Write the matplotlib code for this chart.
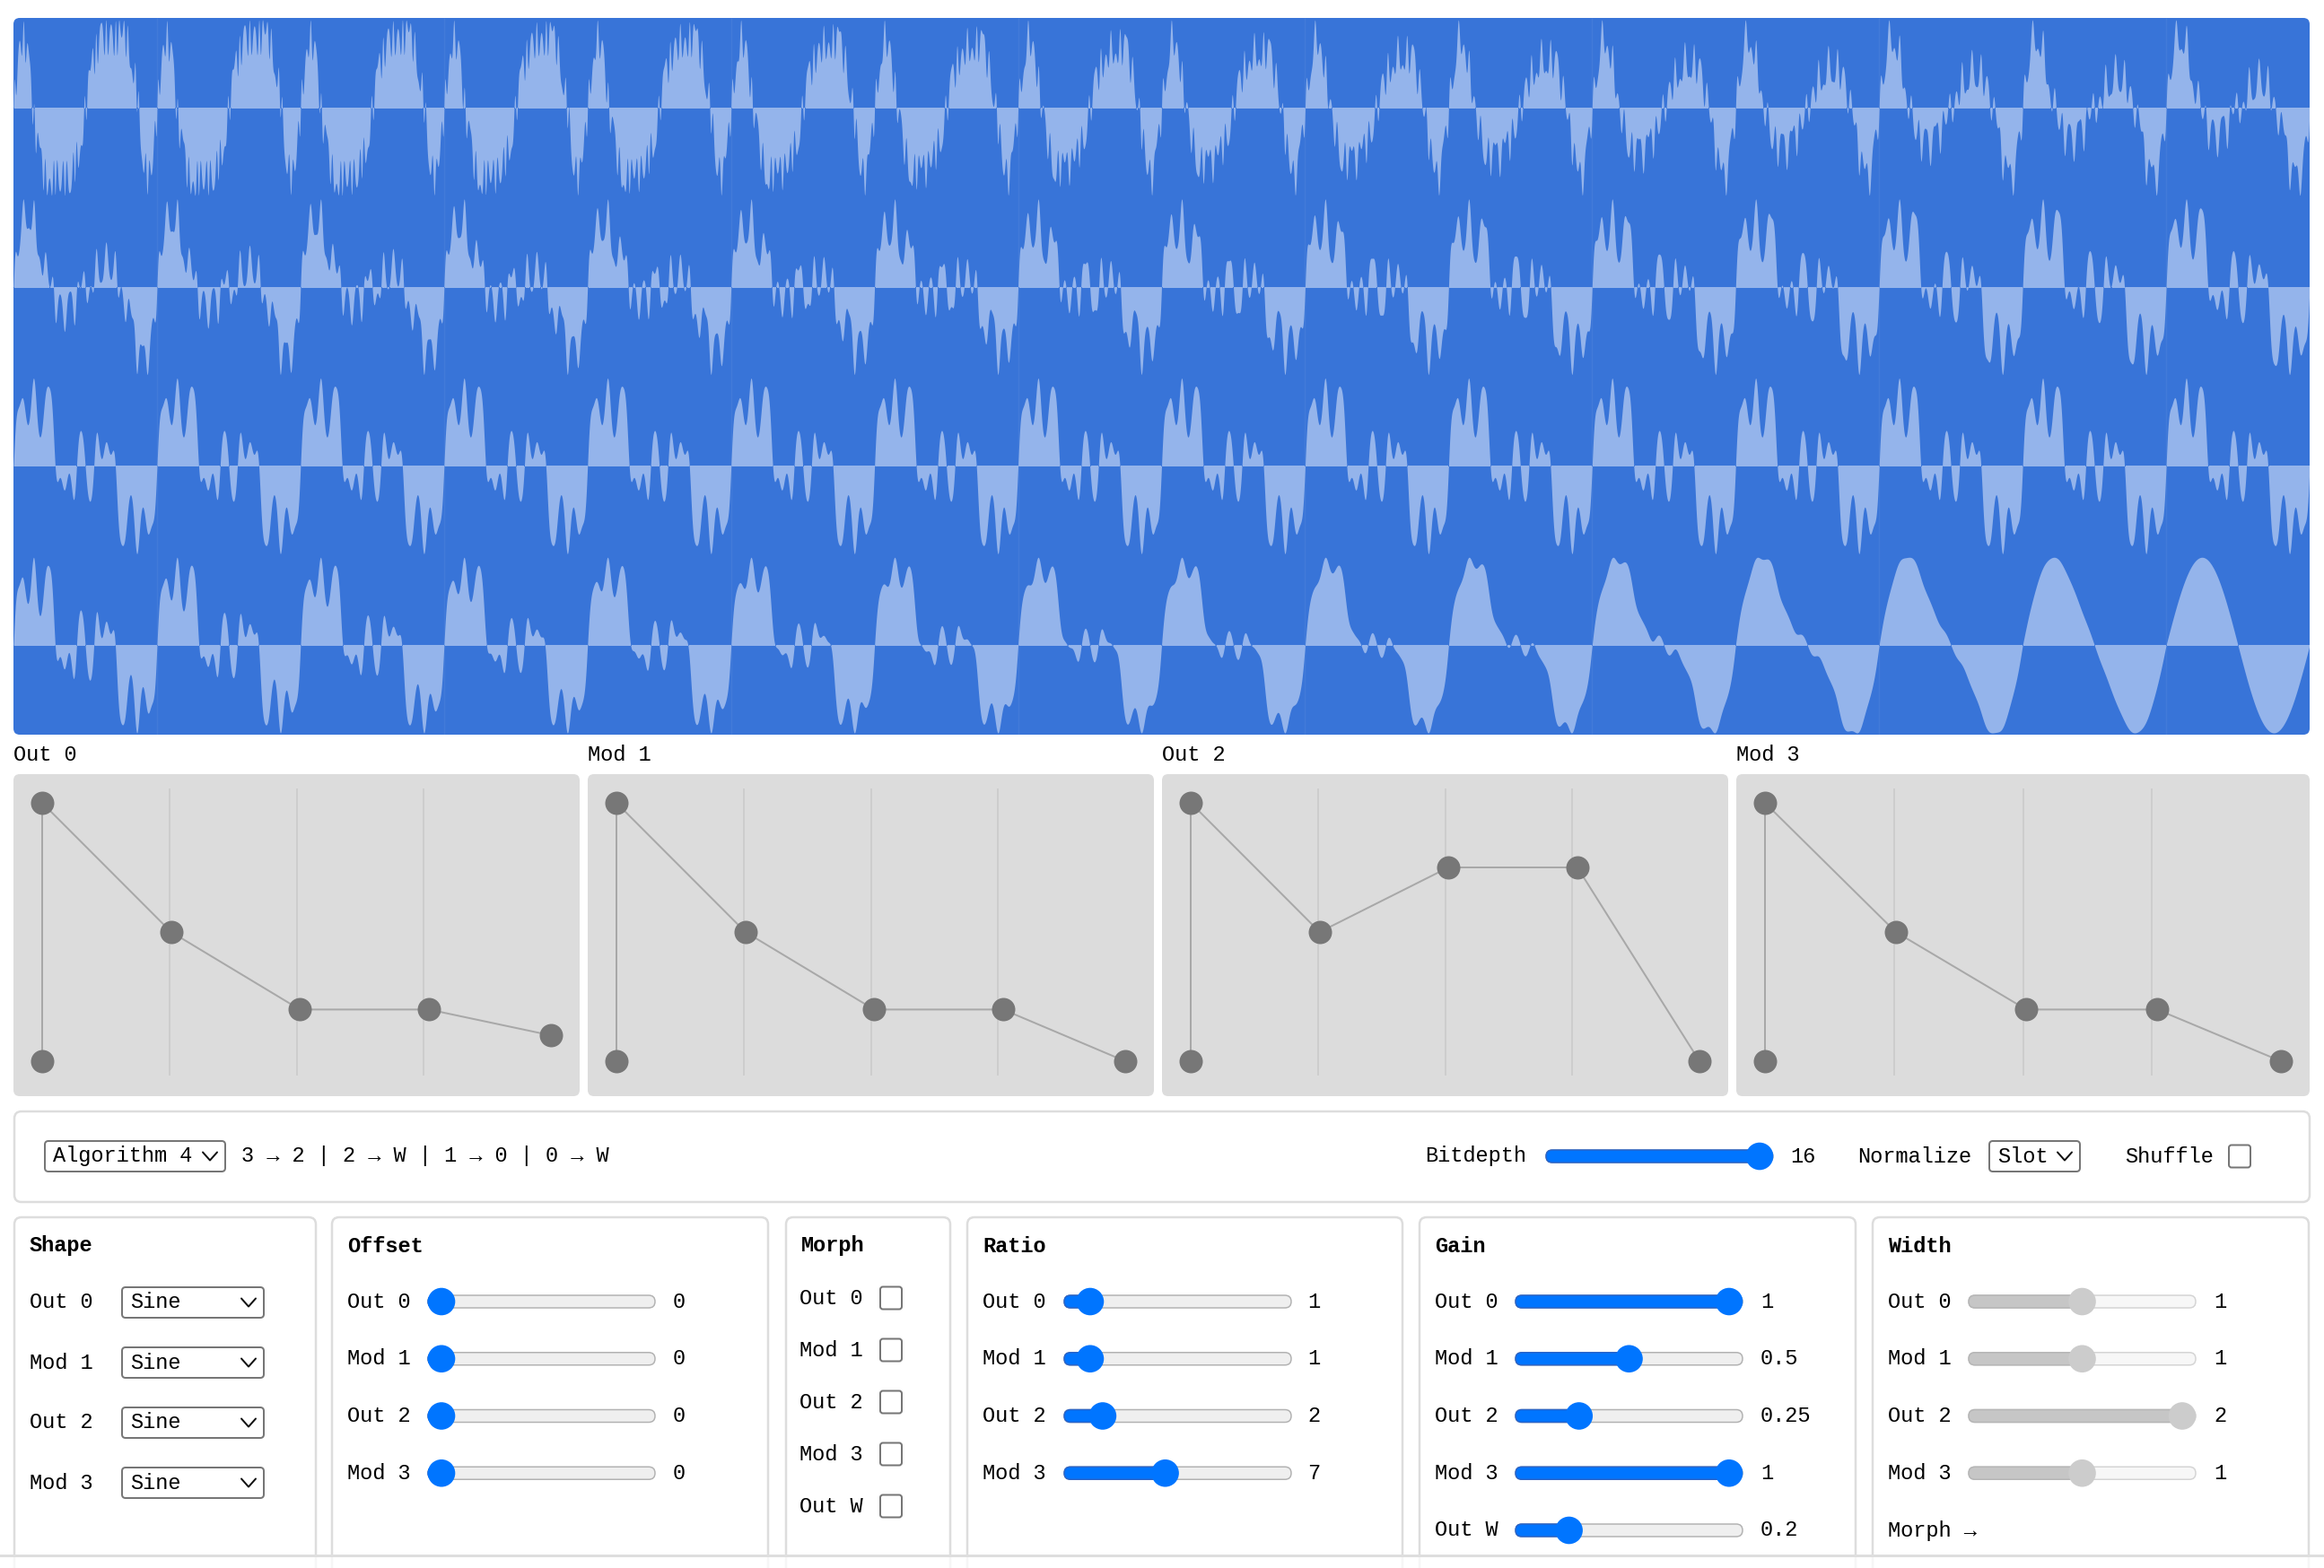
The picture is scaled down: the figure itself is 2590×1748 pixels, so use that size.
import numpy as np
import matplotlib
matplotlib.use("Agg")
import matplotlib.pyplot as plt
from matplotlib.patches import FancyBboxPatch, Circle, Rectangle

W_PX, H_PX = 2590, 1748

# ---- data ----
OPS = ["Out 0", "Mod 1", "Out 2", "Mod 3"]
SHAPES = ["Sine", "Sine", "Sine", "Sine"]
OFFSETS = [0, 0, 0, 0]
MORPH_ROWS = ["Out 0", "Mod 1", "Out 2", "Mod 3", "Out W"]
MORPH_ON = [False, False, False, False, False]
RATIOS = [1, 1, 2, 7]
GAIN_ROWS = ["Out 0", "Mod 1", "Out 2", "Mod 3", "Out W"]
GAINS = [1, 0.5, 0.25, 1, 0.2]
WIDTHS = [1, 1, 2, 1]
ROUTES = [(3, "2"), (2, "W"), (1, "0"), (0, "W")]
ALGORITHM = "Algorithm 4"
BITDEPTH = 16
NORMALIZE = "Slot"

ENV_GRID = [0.25, 0.5, 0.75]
ENV_X = [0, 0.2535, 0.5065, 0.76, 1]
ENV_OUT0 = [1, 0.5, 0.2, 0.2, 0.1]
ENV_MOD1 = [1, 0.5, 0.2, 0.2, 0]
ENV_OUT2 = [1, 0.5, 0.75, 0.75, 0]
ENV_MOD3 = [1, 0.5, 0.2, 0.2, 0]
ENV_FLOOR = [0, 0, 0, 0]
ENVS = [ENV_OUT0, ENV_MOD1, ENV_OUT2, ENV_MOD3]

N_FRAMES = 64
FRAMES_PER_ROW = 16
N_SAMPLES = 512

# ---- styling ----
FONT = ["Liberation Mono", "DejaVu Sans Mono"]
FS = 17
BLUE_BG = "#3874d8"
BLUE_FILL = "#94b4eb"
ACCENT = "#0075ff"
PX = 0.72  # points per pixel at dpi 100


def synth(pos):
    # one wavetable slot: phase modulation following the routing list
    th = 2 * np.pi * np.arange(N_SAMPLES) / N_SAMPLES
    env = [np.interp(pos, ENV_X, e) for e in ENVS]
    outs = {}
    for src, dst in ROUTES:
        pm = sum(outs[s] for s, d in ROUTES if d == str(src) and s in outs)
        outs[src] = GAINS[src] * env[src] * np.sin(RATIOS[src] * th + 2 * np.pi * pm)
    w = GAINS[4] * sum(outs[s] for s, d in ROUTES if d == "W")
    peak = np.abs(w).max()
    return w / peak if peak > 0 else w


def px_rect(x0, y0, x1, y1):
    return [x0 / W_PX, 1 - y1 / H_PX, (x1 - x0) / W_PX, (y1 - y0) / H_PX]


def rbox(ax, x0, y0, x1, y1, r, fc, ec="none", lw=0, z=1, alpha=1):
    p = FancyBboxPatch((x0, y0), x1 - x0, y1 - y0,
                       boxstyle="round,pad=0,rounding_size=%g" % r,
                       fc=fc, ec=ec, lw=lw * PX, zorder=z, alpha=alpha)
    ax.add_patch(p)
    return p


def txt(ax, x, y, s, bold=False):
    ax.text(x, y, s, family=FONT, fontsize=FS, va="center", ha="left",
            weight="bold" if bold else "normal", color="#000000", zorder=6)


def slider(ax, x0, y, frac, active=True):
    x1 = x0 + 253
    cx = x0 + 15 + frac * (253 - 30)
    if active:
        tfc, tec, ffc, fec, thumb = "#efefef", "#b2b2b2", ACCENT, "#2a64c8", ACCENT
    else:
        tfc, tec, ffc, fec, thumb = "#f7f7f7", "#d4d4d4", "#c6c6c6", "#b6b6b6", "#cccccc"
    rbox(ax, x0, y - 7, x1, y + 7, 7, tfc, tec, 1.5, z=3)
    rbox(ax, x0, y - 7, cx, y + 7, 7, ffc, fec, 1.5, z=3)
    ax.add_patch(Circle((cx, y), 15.3, fc=thumb, ec="none", zorder=4))
    return x1


def select(ax, x0, x1, y, label):
    rbox(ax, x0, y - 17, x1, y + 17, 4, "white", "#767676", 2, z=3)
    txt(ax, x0 + 9, y, label)
    cx = x1 - 17
    ax.plot([cx - 8, cx, cx + 8], [y - 4.5, y + 4.5, y - 4.5], color="#111111",
            lw=2 * PX, zorder=6, solid_capstyle="round")


def checkbox(ax, cx, cy):
    rbox(ax, cx - 12, cy - 12.5, cx + 12, cy + 12.5, 3, "white", "#767676", 2, z=3)


fig = plt.figure(figsize=(W_PX / 100, H_PX / 100), dpi=100)
ui = fig.add_axes([0, 0, 1, 1])
ui.set_xlim(0, W_PX)
ui.set_ylim(H_PX, 0)
ui.axis("off")

# ---- wavetable view ----
wave_bg = rbox(ui, 15, 20, 2574, 819, 7, BLUE_BG, z=1)
wax = fig.add_axes(px_rect(15, 20, 2574, 819))
wax.set_facecolor("none")
wax.axis("off")
n_rows = N_FRAMES // FRAMES_PER_ROW
wax.set_xlim(0, FRAMES_PER_ROW)
wax.set_ylim(-2 * n_rows, 0)
for r in range(n_rows):
    xs, ys = [], []
    for k in range(FRAMES_PER_ROW):
        f = r * FRAMES_PER_ROW + k
        xs.append(k + np.arange(N_SAMPLES) / N_SAMPLES)
        ys.append(synth(f / (N_FRAMES - 1)))
    xs.append([FRAMES_PER_ROW])
    ys.append([0.0])
    x = np.concatenate(xs)
    y = np.concatenate(ys)
    base = -(2 * r + 1)
    poly = wax.fill_between(x, base, base + 0.98 * y, color=BLUE_FILL, lw=0)
    poly.set_clip_path(wave_bg)
seams = np.arange(1, FRAMES_PER_ROW, 2)
wax.vlines(seams, -2 * n_rows, 0, color="white", alpha=0.05, lw=1)

# ---- envelope editors ----
env_rects = [(15, 646), (655, 1286), (1295, 1926), (1935, 2574)]
for i, (l, rr) in enumerate(env_rects):
    txt(ui, l, 842, OPS[i])
    rbox(ui, l, 863, rr, 1222, 7, "#dcdcdc", z=1)
    ax = fig.add_axes(px_rect(l, 863, rr, 1222))
    ax.set_facecolor("none")
    ax.axis("off")
    span = (rr - l) - 64
    ax.set_xlim(-32 / span, 1 + 32 / span)
    ax.set_ylim(-39 / 288, 1 + 32 / 288)
    ax.vlines(ENV_GRID, -16 / 288, 1 + 16 / 288, color="#c9c9c9", lw=1.5 * PX)
    env = ENVS[i]
    ax.plot([0, 0], [ENV_FLOOR[i], env[0]], color="#a8a8a8", lw=2 * PX)
    ax.plot(ENV_X, env, color="#a8a8a8", lw=2 * PX)
    ax.plot(ENV_X + [0], env + [ENV_FLOOR[i]], "o", color="#777777",
            ms=26 * PX, mec="none", clip_on=False)

# ---- top control bar ----
rbox(ui, 16, 1239, 2574, 1340, 8, "white", "#dddddd", 2.5, z=1)
yc = 1289
select(ui, 50, 251, yc, ALGORITHM)
txt(ui, 269, yc, " | ".join("%d → %s" % (s, d) for s, d in ROUTES))
txt(ui, 1588, yc, "Bitdepth")
slider(ui, 1723, yc, (BITDEPTH - 1) / 15)
txt(ui, 1995, yc, str(BITDEPTH))
txt(ui, 2070, yc, "Normalize")
select(ui, 2217, 2318, yc, NORMALIZE)
txt(ui, 2368, yc, "Shuffle")
checkbox(ui, 2496, yc)

# ---- bottom panels ----
panels = [("Shape", 16, 352), ("Offset", 370, 856), ("Morph", 876, 1059),
          ("Ratio", 1078, 1563), ("Gain", 1582, 2068), ("Width", 2087, 2573)]
for name, l, rr in panels:
    rbox(ui, l, 1357, rr, 1790, 8, "white", "#dddddd", 2.5, z=1)
    txt(ui, l + 17, 1389, name, bold=True)

for k, op in enumerate(OPS):
    y = 1452 + 67 * k
    txt(ui, 33, y, op)
    select(ui, 136, 294, y, SHAPES[k])

for k, op in enumerate(OPS):
    y = 1451 + 63.75 * k
    txt(ui, 387, y, op)
    x1 = slider(ui, 477, y, OFFSETS[k])
    txt(ui, x1 + 20, y, "%g" % OFFSETS[k])

for k, op in enumerate(MORPH_ROWS):
    y = 1447 + 58 * k
    txt(ui, 891, y + 1, op)
    checkbox(ui, 993, y)

for k, op in enumerate(OPS):
    y = 1451 + 63.75 * k
    txt(ui, 1095, y, op)
    x1 = slider(ui, 1186, y, RATIOS[k] / 16)
    txt(ui, x1 + 18, y, "%g" % RATIOS[k])

for k, op in enumerate(GAIN_ROWS):
    y = 1451 + 63.75 * k
    txt(ui, 1599, y, op)
    x1 = slider(ui, 1689, y, GAINS[k])
    txt(ui, x1 + 20, y, "%g" % GAINS[k])

for k, op in enumerate(OPS):
    y = 1451 + 63.75 * k
    txt(ui, 2104, y, op)
    x1 = slider(ui, 2194, y, WIDTHS[k] / 2, active=False)
    txt(ui, x1 + 20, y, "%g" % WIDTHS[k])
txt(ui, 2104, 1451 + 63.75 * 4, "Morph →")

# cut-off edge at the bottom of the page
ui.add_patch(Rectangle((0, 1734), W_PX, 30, fc="white", alpha=0.75, ec="none", zorder=8))
ui.plot([0, W_PX], [1734, 1734], color="#dedede", lw=3 * PX, zorder=9)

fig.savefig("out.png", dpi=100)
